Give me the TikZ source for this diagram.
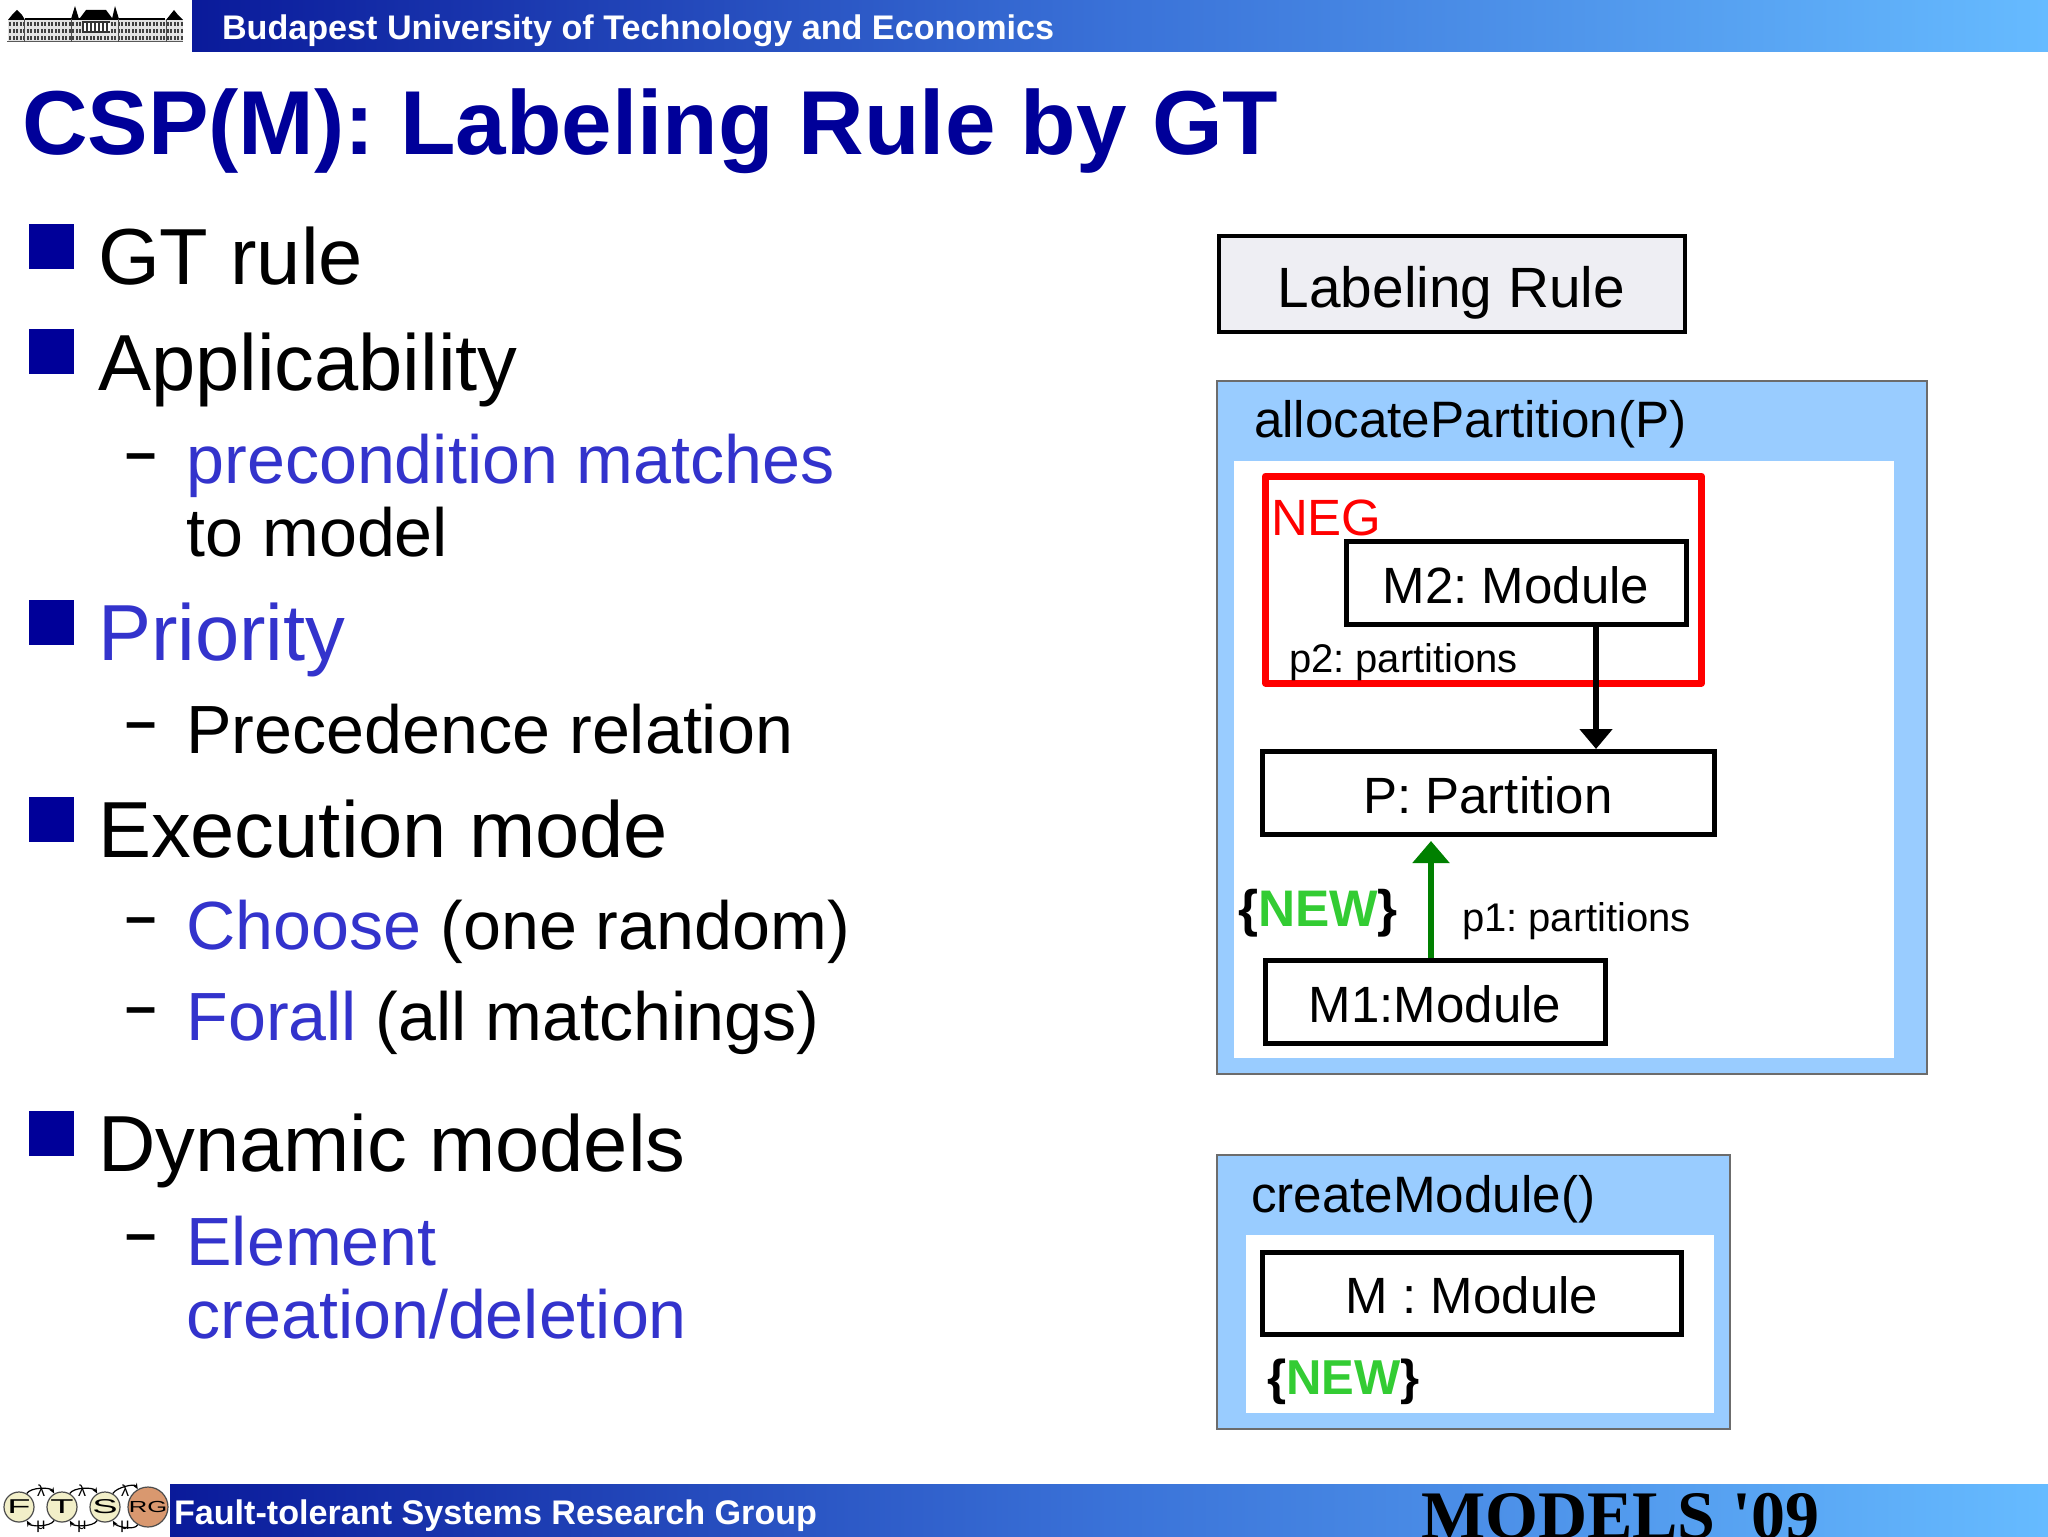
\documentclass[tikz,border=0pt]{standalone}
\usepackage{fontspec}
\setmainfont{Liberation Sans}
\newfontfamily\timesf{Liberation Serif}
\usetikzlibrary{arrows.meta}
\frenchspacing
\definecolor{navy}{HTML}{000099}
\definecolor{bluetxt}{HTML}{3333CC}
\definecolor{panel}{HTML}{99CCFF}
\definecolor{newg}{HTML}{33CC33}
\definecolor{arrg}{HTML}{008000}
\definecolor{barL}{HTML}{0A1A9A}
\definecolor{barM}{HTML}{3A72D8}
\definecolor{barR}{HTML}{66BBFF}
\definecolor{lab}{HTML}{EEEEF3}
\definecolor{cF}{HTML}{F2EFC8}
\definecolor{cR}{HTML}{D9986F}
\newcommand{\fs}[1]{\fontsize{#1}{#1}\selectfont}
\newcommand{\wide}[1]{\scalebox{1.9}[1]{#1}}
\tikzset{
 x=0.5pt,y=-0.5pt,
 txt/.style={anchor=base west,inner sep=0,outer sep=0},
 bar/.style={left color=barL,right color=barR,middle color=barM,draw=none},
 bullet/.style={fill=navy,draw=none},
 lvlA/.style={txt,font=\fs{39.75}},
 lvlB/.style={txt,font=\fs{34.1}},
 dashm/.style={txt,font=\fs{28}\bfseries},
 panelbox/.style={fill=panel,draw=gray!85!black,line width=1pt},
 inner/.style={fill=white,draw=none},
 objbox/.style={draw=black,fill=white,line width=2.5pt,font=\fs{25.5},inner sep=0,text height=20.5pt,text depth=0pt},
 small/.style={txt,font=\fs{20}},
 med/.style={txt,font=\fs{25.5}},
 newl/.style={txt,font=\fs{25.7}\bfseries},
 circ/.style={circle,draw=black!70,line width=.6pt,minimum size=15pt,inner sep=0,font=\fs{10}},
 loopa/.style={line width=.6pt,draw=black,-{Stealth[length=3pt,width=2.5pt]}},
 greek/.style={inner sep=0,font=\fs{8}},
}
\begin{document}
\begin{tikzpicture}
\useasboundingbox (0,0) rectangle (2048,1536);
\fill[white] (0,0) rectangle (2048,1536);
\begin{scope}
\clip (0,0) rectangle (2048,1536);
% bars
\shade[bar] (192,0) rectangle (2048,52);
\shade[bar] (170,1484) rectangle (2048,1536);
\node[txt,text=white,font=\fs{17.07}\bfseries] (head) at (222,40) {Budapest University of Technology and Economics};
\node[txt,text=white,font=\fs{17.07}\bfseries] (foot) at (174,1524) {Fault-tolerant Systems Research Group};
\node[txt,font=\fs{34}\timesf\bfseries] (conf) at (1421,1538) {MODELS '09};
% building logo
\fill[gray!22] (8,19) rectangle (183,42);
\fill[black] (25,18) rectangle (165,20);
\fill[black] (8,20) -- (12,15) -- (17,10) -- (22,15) -- (25,20) -- cycle;
\fill[black] (166,20) -- (170,15) -- (174,10) -- (178,15) -- (183,20) -- cycle;
\fill[black] (80,18) -- (86,10) -- (106,10) -- (112,18) -- cycle;
\fill[black] (71,19) -- (75,6) -- (79,19) -- cycle;
\fill[black] (112,19) -- (115,6) -- (119,19) -- cycle;
\foreach \y in {22,29,36}{
 \foreach \x in {9,12.5,...,181}{ \fill[black!75] (\x,\y) rectangle +(2,4); }
}
\fill[black!80] (82,21) rectangle (110,33);
\foreach \x in {84,88,...,108}{ \fill[white] (\x,23) rectangle +(1.5,8); }
\fill[black!65] (7,41.5) rectangle (183,42.5);
\foreach \x in {24,71,118,166}{ \fill[black!70] (\x,19) rectangle +(1.2,23); }
% FTSRG logo
\node[circ,fill=cF] (cf) at (19,1507) {\wide{F}};
\node[circ,fill=cF] (ct) at (62,1507) {\wide{T}};
\node[circ,fill=cF] (cs) at (105,1507) {\wide{S}};
\node[circ,fill=cR,font=\fs{8}] (cr) at (148,1507) {\scalebox{1.6}[1]{RG}};
\foreach \a/\b in {cf/ct,ct/cs,cs/cr}{
 \draw[loopa] (\a.60) to[out=60,in=120,looseness=.7] (\b.120);
 \draw[loopa] (\b.-120) to[out=-120,in=-60,looseness=.7] (\a.-60);
}
\foreach \a/\p in {a/41,b/82,c/125}{
 \node[greek] (l\a) at (\p,1491) {λ};
 \node[greek] (m\a) at (\p,1527) {μ};
}
% title
\node[txt,text=navy,font=\fs{45.4}\bfseries] (title) at (22,154.5) {CSP(M): Labeling Rule by GT};
% bullets
\foreach \y in {224,329,600,797,1111}{
 \fill[bullet] (29,\y) rectangle +(45,45);
}
\node[lvlA] (t1) at (98,284) {GT rule};
\node[lvlA] (t2) at (98,390.5) {Applicability};
\node[lvlB,text=bluetxt] (t3) at (186.5,483.5) {precondition matches};
\node[lvlB] (t4) at (186.5,556.5) {to model};
\node[lvlA,text=bluetxt] (t5) at (98,660) {Priority};
\node[lvlB] (t6) at (186.5,753.5) {Precedence relation};
\node[lvlA] (t7) at (98,857) {Execution mode};
\node[lvlB] (t8) at (186.5,949.5) {\textcolor{bluetxt}{Choose} (one random)};
\node[lvlB] (t9) at (186.5,1040.5) {\textcolor{bluetxt}{Forall} (all matchings)};
\node[lvlA] (t10) at (98,1171) {Dynamic models};
\node[lvlB,text=bluetxt] (t11) at (186.5,1265) {Element};
\node[lvlB,text=bluetxt] (t12) at (186.5,1338) {creation/deletion};
\foreach \n/\y in {a/471,b/740,c/935,d/1025,e/1252}{
 \node[dashm] (d\n) at (125,\y) {–};
}
% labeling rule
\node[draw=black,fill=lab,line width=2pt,minimum width=233pt,minimum height=48pt,font=\fs{28.4},text height=23pt,text depth=0pt,inner sep=0] (lr) at (1451.5,284) {Labeling Rule};
% allocatePartition panel
\draw[panelbox] (1217,381) rectangle (1927,1074);
\fill[inner] (1234,461) rectangle (1894,1058);
\node[med,font=\fs{25.6}] (ap) at (1254,437) {allocatePartition(P)};
\draw[red,line width=3.5pt,line join=round] (1265.5,476) rectangle (1701.5,683);
\node[med,text=red] (neg) at (1271,535) {NEG};
\node[objbox,minimum width=170pt,minimum height=41.5pt] (m2) at (1516,583) {M2: Module};
\node[objbox,minimum width=226pt,minimum height=41.5pt] (pp) at (1488,793) {P: Partition};
\node[objbox,minimum width=170pt,minimum height=41.5pt] (m1) at (1435,1002) {M1:Module};
\node[small] (p2) at (1289,672) {p2: partitions};
\node[small] (p1) at (1462,931) {p1: partitions};
\node[newl] (nw1) at (1238,926) {\{\textcolor{newg}{NEW}\}};
\coordinate (ax) at (1596,0);
\coordinate (gx) at (1431,0);
\draw[line width=3pt,-{Triangle[length=10pt,width=16pt]}] (m2.south -| ax) -- (pp.north -| ax);
\draw[arrg,line width=3pt,shorten >=2pt,-{Triangle[length=11pt,width=18pt]}] (m1.north -| gx) -- (pp.south -| gx);
% createModule panel
\draw[panelbox] (1217,1155) rectangle (1730,1429);
\fill[inner] (1246,1235) rectangle (1714,1413);
\node[med,font=\fs{25.6}] (cm) at (1251,1212.5) {createModule()};
\node[objbox,minimum width=209.5pt,minimum height=41pt] (mm) at (1472,1293) {M : Module};
\node[newl,font=\fs{24.5}\bfseries] (nw2) at (1267,1394) {\{\textcolor{newg}{NEW}\}};
\end{scope}
\end{tikzpicture}
\end{document}
